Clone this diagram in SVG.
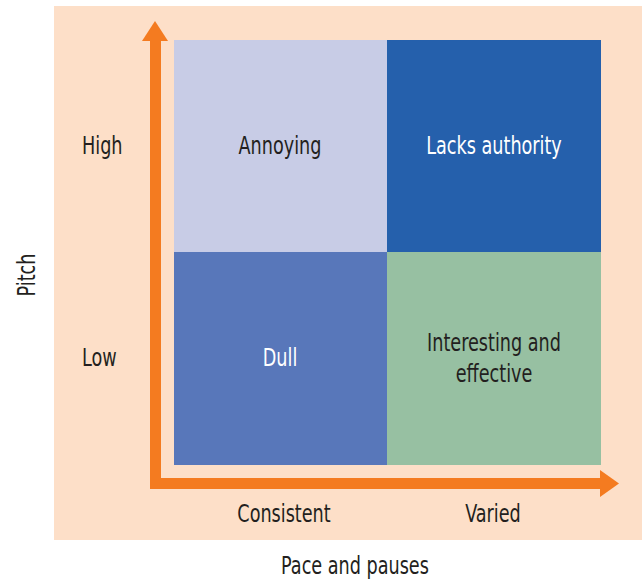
<svg xmlns="http://www.w3.org/2000/svg" width="642" height="581" viewBox="0 0 642 581">
<style>
text{font-family:"DejaVu Sans Condensed","Liberation Sans Narrow","Liberation Sans",sans-serif;font-size:19.6px;fill:#231f20;text-anchor:middle}
.w{fill:#ffffff}
.l{text-anchor:start}
</style>
<rect x="54" y="6" width="588" height="534" fill="#fddfc8"/>
<g id="cell-annoying"><rect x="174" y="40" width="213" height="212" fill="#c8cce6"/><text transform="translate(280 154) scale(1 1.28)">Annoying</text></g>
<g id="cell-lacks-authority"><rect x="387" y="40" width="214" height="212" fill="#2560ac"/><text class="w" transform="translate(494 154) scale(1 1.28)">Lacks authority</text></g>
<g id="cell-dull"><rect x="174" y="252" width="213" height="213" fill="#5877ba"/><text class="w" transform="translate(280 366) scale(1 1.28)">Dull</text></g>
<g id="cell-interesting"><rect x="387" y="252" width="214" height="213" fill="#97c0a2"/><text transform="translate(494 351) scale(1 1.28)">Interesting and</text><text transform="translate(494 382) scale(1 1.28)">effective</text></g>
<g id="connectors">
<path d="M155.5 41 V483.5 H600" fill="none" stroke="#f47b20" stroke-width="11"/>
<polygon points="155,21 168,41 142,41" fill="#f47b20"/>
<polygon points="619,483.5 600,470 600,497" fill="#f47b20"/>
</g>
<g id="labels">
<text class="l" transform="translate(82 154) scale(1 1.28)">High</text>
<text class="l" transform="translate(82 366) scale(1 1.28)">Low</text>
<text transform="translate(284 522) scale(1 1.28)">Consistent</text>
<text transform="translate(493 522) scale(1 1.28)">Varied</text>
<text transform="translate(355 574) scale(1 1.28)">Pace and pauses</text>
<text transform="translate(35 275) rotate(-90) scale(1 1.28)">Pitch</text>
</g>
</svg>
